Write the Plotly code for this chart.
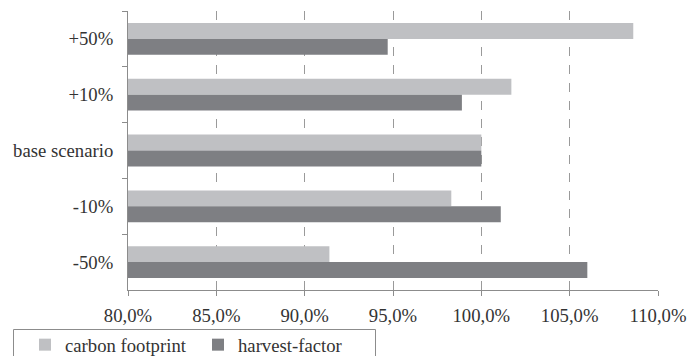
import plotly.graph_objects as go

# Scenario categories (top to bottom) and relative results in percent
scenarios = ["+50%", "+10%", "base scenario", "-10%", "-50%"]
carbon_footprint = [108.6, 101.7, 100.0, 98.3, 91.4]
harvest_factor = [94.7, 98.9, 100.0, 101.1, 106.0]

x_ticks = [80, 85, 90, 95, 100, 105, 110]
x_tick_text = [f"{v:.1f}".replace(".", ",") + "%" for v in x_ticks]

FONT = "Liberation Serif"
FSIZE = 18.7
TEXT = "#333333"
AXIS = "#8c8c8c"

# plot area in pixels, used to place the legend box in paper coordinates
L, R, T, B = 128, 30, 11, 66
W, H = 688, 356
PW, PH = W - L - R, H - T - B


def px_x(px):
    return (px - L) / PW


def px_y(py):
    return (H - B - py) / PH


fig = go.Figure()
fig.add_trace(go.Bar(
    y=scenarios, x=carbon_footprint, orientation="h",
    name="carbon footprint", marker=dict(color="#bfc0c3", line=dict(width=0)),
))
fig.add_trace(go.Bar(
    y=scenarios, x=harvest_factor, orientation="h",
    name="harvest-factor", marker=dict(color="#7e7f83", line=dict(width=0)),
))

# base is 0 so bars start at the left edge of the 80% axis
fig.update_traces(base=0)

# legend frame
fig.add_shape(
    type="rect", xref="paper", yref="paper",
    x0=px_x(13.5), x1=px_x(375.5), y0=px_y(370), y1=px_y(329.5),
    line=dict(color=AXIS, width=1), fillcolor="rgba(0,0,0,0)", layer="above",
)

fig.update_layout(
    width=W, height=H,
    margin=dict(l=L, r=R, t=T, b=B, autoexpand=False),
    paper_bgcolor="white", plot_bgcolor="white",
    barmode="group", bargap=0.43, bargroupgap=0,
    font=dict(family=FONT, size=FSIZE, color=TEXT),
    showlegend=True,
    legend=dict(
        orientation="h", x=px_x(25), xanchor="left",
        y=px_y(326), yanchor="top",
        borderwidth=0, bgcolor="rgba(0,0,0,0)",
        font=dict(family=FONT, size=FSIZE, color=TEXT),
        traceorder="normal", entrywidth=128, entrywidthmode="pixels",
    ),
    xaxis=dict(
        range=[80, 110], tickvals=x_ticks, ticktext=x_tick_text,
        showgrid=True, gridcolor="#9a9a9a", griddash="dash", gridwidth=1,
        showline=True, linecolor=AXIS, linewidth=1,
        ticks="outside", ticklen=5, tickcolor=AXIS,
        ticklabelstandoff=4, zeroline=False,
    ),
    yaxis=dict(
        categoryorder="array", categoryarray=scenarios, autorange="reversed",
        showline=True, linecolor=AXIS, linewidth=1,
        ticks="outside", ticklen=5, tickcolor=AXIS, tickson="boundaries",
        showgrid=False, ticklabelstandoff=10,
    ),
)

fig.write_html("out.html")
